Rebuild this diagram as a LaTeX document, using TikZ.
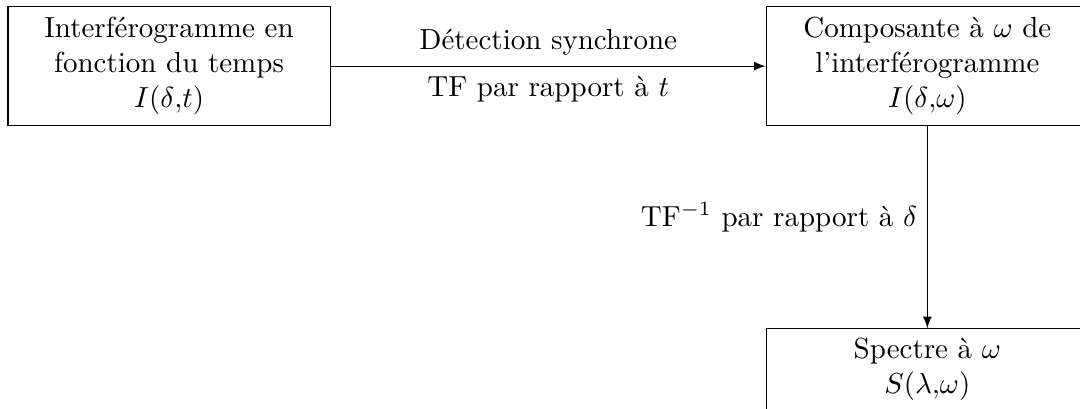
\documentclass[tikz,border=0pt]{standalone}
\usepackage{amsmath}
\usetikzlibrary{positioning}

\begin{document}
\begin{tikzpicture}[font=\normalsize,
  bloc/.style={draw,align=center,text width=104.4pt,minimum height=#1},
  bloc/.default=41pt,
  fl/.style={-latex}]

% ---------- cadre ----------
\useasboundingbox (-58.3pt,22.8pt) rectangle (314.1pt,-118.23pt);
\clip (-58.3pt,22.8pt) rectangle (314.1pt,-118.23pt);

% ---------- blocs ----------
\node[bloc] (interf) {Interférogramme en\\fonction du temps\\$I(\delta{,}t)$};
\node[bloc,right=150pt of interf] (comp) {Composante à $\omega$ de\\l'interférogramme\\$I(\delta{,}\omega)$};
\node[bloc=0pt,below=69.7pt of comp] (spec) {Spectre à $\omega$\\$S(\lambda{,}\omega)$};

% ---------- fleches ----------
\draw[fl] (interf) -- node[above] {Détection synchrone}
  node[below] {TF par rapport à $t$} (comp);
\draw[fl] (comp) -- node[left,pos=0.45] {TF$^{-1}$ par rapport à $\delta$} (spec);
\end{tikzpicture}
\end{document}
